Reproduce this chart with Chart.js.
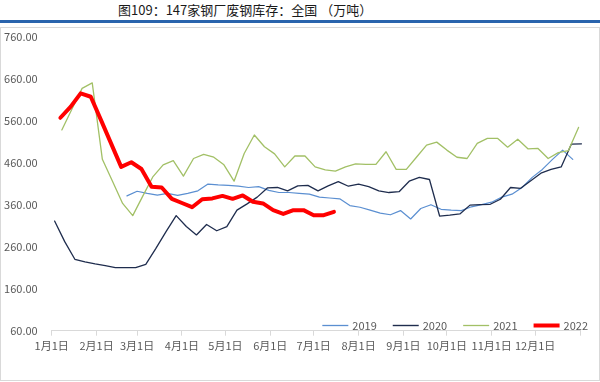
<!DOCTYPE html>
<html><head><meta charset="utf-8">
<script src="https://cdn.jsdelivr.net/npm/chart.js@4.4.1/dist/chart.umd.min.js"></script>
<style>
html,body{margin:0;padding:0;background:#fff;}
#wrap{position:relative;width:600px;height:382px;overflow:hidden;background:#fff;}
#title{position:absolute;left:118px;top:1px;white-space:nowrap;font-family:"Noto Sans CJK SC";font-size:13px;line-height:17px;color:#1a1a1a;}
#rule{position:absolute;left:0;top:20px;width:600px;height:3px;background:#2a64ad;}
#frame{position:absolute;left:0;top:27px;width:598px;height:352px;border:1px solid #d9d9d9;}
#c{position:absolute;left:0;top:0;}
</style></head>
<body><div id="wrap">
<div id="title">图109：147家钢厂废钢库存：全国 （万吨）</div>
<div id="rule"></div>
<div id="frame"></div>
<canvas id="c" width="600" height="382"></canvas>
</div>
<script>
// Category ticks (month starts, day of year) and labels
const monthLabels = ['1月1日','2月1日','3月1日','4月1日','5月1日','6月1日','7月1日','8月1日','9月1日','10月1日','11月1日','12月1日',''];
const monthStartDays = [0,31,59,90,120,151,181,212,243,273,304,334,365];

// Weekly series (first observation day-of-year, then weekly values)
const start2019 = 52;
const values2019 = [381,392,387,383,387,382,387,393,409,407,406,404,401,403,394,389,389,387,385,378,376,374,358,354,347,340,336,346,326,351,360,349,347,346,355,360,366,378,385,401,425,444,468,490,468];
const start2020 = 2;
const values2020 = [321,272,230,224,219,215,210,210,210,218,256,296,334,308,288,313,298,308,347,362,378,400,401,393,405,406,393,405,415,404,409,403,393,389,391,416,425,420,333,335,338,359,360,361,373,401,399,417,435,444,450,504,505];
const start2021 = 7;
const values2021 = [538,588,637,650,468,416,363,334,381,427,455,465,428,470,480,473,455,416,482,526,498,481,450,476,476,450,443,440,450,457,456,456,486,444,444,473,502,509,490,473,470,506,518,518,497,516,493,494,470,484,489,544];
const start2022 = 6;
const values2022 = [567,593,625,617,562,506,450,461,445,403,401,374,364,354,373,375,381,374,382,367,363,347,338,347,347,335,335,343];

const seriesNames = ['2019','2020','2021','2022'];
const yTicks = {min:60, max:760, step:100};

function weekly(start, vals){ return vals.map((v,i)=>({x:start+7*i, y:v})); }

const FONT = '"Noto Sans CJK SC", "Noto Sans", sans-serif';

const legendPlugin = {
  id:'customLegend',
  afterDraw(chart){
    const ctx = chart.ctx;
    ctx.save();
    ctx.font = '11px ' + FONT;
    ctx.textBaseline = 'middle';
    const y = 325.5, lineW = 26, gap1 = 4, gap2 = 16;
    const items = chart.data.datasets.map(d=>({label:d.label, color:d.borderColor, w:d.legendWidth}));
    let total = 0;
    items.forEach((it,i)=>{ it.tw = ctx.measureText(it.label).width; total += lineW+gap1+it.tw + (i<items.length-1?gap2:0); });
    let x = 588 - total;
    items.forEach(it=>{
      ctx.strokeStyle = it.color; ctx.lineWidth = it.w; ctx.lineCap='butt';
      ctx.beginPath(); ctx.moveTo(x, y); ctx.lineTo(x+lineW, y); ctx.stroke();
      ctx.fillStyle = '#595959';
      ctx.fillText(it.label, x+lineW+gap1, y+0.5);
      x += lineW+gap1+it.tw+gap2;
    });
    ctx.restore();
  }
};

new Chart(document.getElementById('c'), {
  type:'line',
  data:{ datasets:[
    {label:seriesNames[0], data:weekly(start2019, values2019), borderColor:'#5b8fd1', borderWidth:1.2, legendWidth:1.3, order:3},
    {label:seriesNames[1], data:weekly(start2020, values2020), borderColor:'#1f2d4e', borderWidth:1.3, legendWidth:1.4, order:2},
    {label:seriesNames[2], data:weekly(start2021, values2021), borderColor:'#a2c066', borderWidth:1.3, legendWidth:1.3, order:1},
    {label:seriesNames[3], data:weekly(start2022, values2022), borderColor:'#ff0000', borderWidth:4, legendWidth:4, order:0}
  ]},
  options:{
    responsive:false, animation:false,
    elements:{ point:{radius:0}, line:{tension:0, borderJoinStyle:'round', borderCapStyle:'round'} },
    datasets:{ line:{ clip:false } },
    layout:{ padding:{top:36.7, right:20, left:0, bottom:0} },
    plugins:{ legend:{display:false}, tooltip:{enabled:false}, title:{display:false} },
    scales:{
      x:{
        type:'linear', min:0, max:365, position:'bottom',
        afterBuildTicks:(axis)=>{ axis.ticks = monthStartDays.map(v=>({value:v})); },
        afterFit:(s)=>{ s.height = 51.3; },
        ticks:{ autoSkip:false, maxRotation:0, minRotation:0, padding:4,
          callback:(v,i)=>monthLabels[i], color:'#595959', font:{family:FONT, size:11} },
        grid:{ display:true, drawOnChartArea:false, drawTicks:true, tickLength:5, color:'#d9d9d9' },
        border:{ display:true, color:'#d9d9d9', width:1 }
      },
      y:{
        min:yTicks.min, max:yTicks.max,
        afterFit:(s)=>{ s.width = 51.7; },
        ticks:{ stepSize:yTicks.step, padding:14, callback:(v)=>Number(v).toFixed(2), color:'#595959', font:{family:FONT, size:11} },
        grid:{ display:false, drawTicks:false },
        border:{ display:false }
      }
    }
  },
  plugins:[legendPlugin]
});
</script>
</body></html>
